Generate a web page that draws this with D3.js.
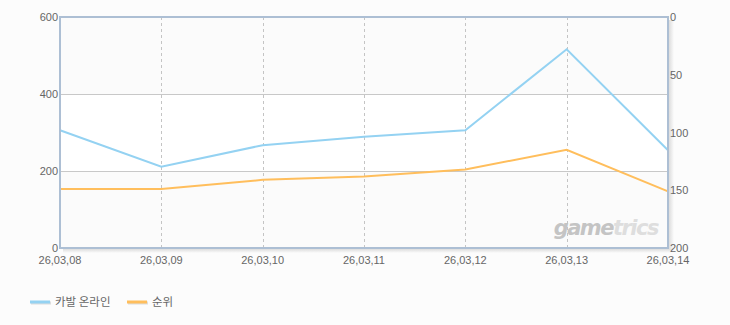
<!DOCTYPE html>
<html>
<head>
<meta charset="utf-8">
<script src="https://cdn.jsdelivr.net/npm/d3@7"></script>
<style>
  body { margin: 0; background: #fcfcfc; }
  svg { display: block; font-family: "Liberation Sans", "Noto Sans CJK KR", sans-serif; }
  .lbl { fill: #666; font-size: 11px; }
  .leg-lbl { fill: #666; font-size: 11.5px; font-family: "Noto Sans CJK KR", sans-serif; }
</style>
</head>
<body>
<svg id="chart"></svg>
<script>
// data
const dates = ["26,03,08", "26,03,09", "26,03,10", "26,03,11", "26,03,12", "26,03,13", "26,03,14"];
const players = [306, 211, 267, 289, 306, 516, 254];   // 카발 온라인 (left axis)
const ranks = [149, 149, 141, 138, 132, 115, 151];     // 순위 (right axis, inverted)
const leftTicks = [0, 200, 400, 600];
const rightTicks = [0, 50, 100, 150, 200];
const seriesNames = ["카발 온라인", "순위"];

const width = 730, height = 325;
const margin = { top: 17, right: 62, bottom: 77, left: 60 };
const blue = "#94d2f2", orange = "#ffbe5c";

const svg = d3.select("#chart").attr("width", width).attr("height", height);

const x = d3.scalePoint().domain(dates).range([margin.left, width - margin.right]);
const yL = d3.scaleLinear().domain([0, 600]).range([height - margin.bottom, margin.top]);
const yR = d3.scaleLinear().domain([0, 200]).range([margin.top, height - margin.bottom]);

const x0 = margin.left, x1 = width - margin.right;
const yTop = margin.top, yBot = height - margin.bottom;

// shadow on right + bottom of frame
const defs = svg.append("defs");
const gr = defs.append("linearGradient").attr("id", "shR");
gr.append("stop").attr("offset", 0).attr("stop-color", "#ddd");
gr.append("stop").attr("offset", 1).attr("stop-color", "#fcfcfc");
const gb = defs.append("linearGradient").attr("id", "shB").attr("x2", 0).attr("y2", 1);
gb.append("stop").attr("offset", 0).attr("stop-color", "#ddd");
gb.append("stop").attr("offset", 1).attr("stop-color", "#fcfcfc");
svg.append("rect").attr("x", x1 + 1).attr("y", yTop + 3).attr("width", 5).attr("height", yBot - yTop)
  .attr("fill", "url(#shR)");
svg.append("rect").attr("x", x0 + 3).attr("y", yBot + 1).attr("width", x1 - x0).attr("height", 4)
  .attr("fill", "url(#shB)");

// bands
const bands = d3.pairs(leftTicks);
svg.selectAll("rect.band").data(bands).enter().append("rect")
  .attr("class", "band")
  .attr("x", x0).attr("width", x1 - x0)
  .attr("y", d => yL(d[1])).attr("height", d => yL(d[0]) - yL(d[1]))
  .attr("fill", (d, i) => i % 2 ? "#ffffff" : "#fbfbfb");

// grid
svg.selectAll("line.hg").data(leftTicks.slice(1, -1)).enter().append("line")
  .attr("x1", x0).attr("x2", x1)
  .attr("y1", d => yL(d) + 0.5).attr("y2", d => yL(d) + 0.5)
  .attr("stroke", "#c8c8c8");
svg.selectAll("line.vg").data(dates.slice(1, -1)).enter().append("line")
  .attr("x1", d => Math.round(x(d)) + 0.5).attr("x2", d => Math.round(x(d)) + 0.5)
  .attr("y1", yTop).attr("y2", yBot)
  .attr("stroke", "#c4c4c4").attr("stroke-dasharray", "3,3");

// watermark
const wm = svg.append("text").attr("x", x1 - 10).attr("y", yBot - 13)
  .attr("text-anchor", "end").attr("font-family", "DejaVu Sans")
  .attr("font-size", 21).attr("font-weight", "bold").attr("font-style", "italic")
  .attr("letter-spacing", -1.5).attr("fill", "#c4c4c4");
wm.append("tspan").text("game");
wm.append("tspan").attr("fill", "#dedede").text("trics");

// lines
const lineL = d3.line().x((d, i) => x(dates[i])).y(d => yL(d));
const lineR = d3.line().x((d, i) => x(dates[i])).y(d => yR(d));
svg.append("path").datum(players).attr("d", lineL)
  .attr("fill", "none").attr("stroke", blue).attr("stroke-width", 2);
svg.append("path").datum(ranks).attr("d", lineR)
  .attr("fill", "none").attr("stroke", orange).attr("stroke-width", 2);

// frame
svg.append("rect").attr("x", x0).attr("y", yTop).attr("width", x1 - x0).attr("height", yBot - yTop)
  .attr("fill", "none").attr("stroke", "#adbfd4").attr("stroke-width", 2);

// axis labels
svg.selectAll("text.yl").data(leftTicks).enter().append("text")
  .attr("class", "lbl").attr("x", x0 - 2).attr("y", d => yL(d) + 4)
  .attr("text-anchor", "end").text(d => d);
svg.selectAll("text.yr").data(rightTicks).enter().append("text")
  .attr("class", "lbl").attr("x", x1 + 2).attr("y", d => yR(d) + 4)
  .text(d => d);
svg.selectAll("text.xl").data(dates).enter().append("text")
  .attr("class", "lbl").attr("x", d => x(d)).attr("y", yBot + 16)
  .attr("text-anchor", "middle").text(d => d);

// legend
const leg = svg.selectAll("g.leg").data(seriesNames).enter().append("g")
  .attr("transform", (d, i) => `translate(${i ? 127 : 30},302)`);
leg.append("line").attr("x1", 1).attr("x2", 21).attr("y1", 1).attr("y2", 1)
  .attr("stroke", "#ddd").attr("stroke-width", 3);
leg.append("line").attr("x1", 0).attr("x2", 20).attr("y1", 0).attr("y2", 0)
  .attr("stroke", (d, i) => i ? orange : blue).attr("stroke-width", 3);
leg.append("text").attr("class", "leg-lbl").attr("x", 25).attr("y", 4).text(d => d);
</script>
</body>
</html>
